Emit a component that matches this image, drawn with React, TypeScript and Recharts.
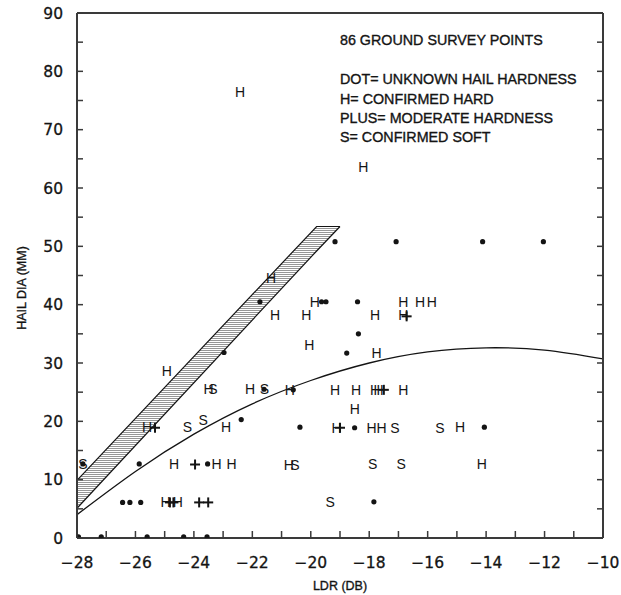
import React from "react";
import { ComposedChart, XAxis, YAxis, Scatter, Line, Area } from "recharts";

// survey points: [LDR dB, hail dia mm]
const unknownPts = [
  [-22.97, 31.8], [-22.38, 20.3], [-25.87, 12.7], [-23.53, 12.7], [-27.8, 12.7],
  [-26.44, 6.1], [-26.19, 6.1], [-25.82, 6.1],
  [-27.95, 0.2], [-27.17, 0.2], [-25.6, 0.2], [-24.35, 0.2], [-23.55, 0.2],
  [-18.37, 35.0], [-18.77, 31.7], [-20.37, 19.0], [-18.5, 18.9], [-17.84, 6.2],
  [-14.06, 19.0], [-19.17, 50.8], [-17.08, 50.8], [-14.12, 50.8], [-12.04, 50.8],
  [-21.74, 40.5], [-19.63, 40.5], [-19.48, 40.5], [-18.4, 40.5],
  [-21.6, 25.5], [-20.6, 25.4],
];

const hardPts = [
  [-22.42, 76.5], [-18.2, 63.6], [-21.36, 44.5], [-19.86, 40.5], [-16.83, 40.5],
  [-16.26, 40.5], [-15.86, 40.5], [-21.22, 38.2], [-20.15, 38.2], [-17.8, 38.2],
  [-16.83, 38.2], [-20.05, 33.1], [-17.75, 31.8], [-24.93, 28.7], [-23.5, 25.5],
  [-22.08, 25.5], [-20.72, 25.4], [-19.17, 25.4], [-18.45, 25.4], [-17.8, 25.4],
  [-17.68, 25.4], [-16.83, 25.4], [-18.49, 22.2], [-25.6, 19.0], [-22.9, 19.1],
  [-19.12, 18.9], [-17.92, 18.9], [-17.58, 18.9], [-14.89, 19.0], [-24.68, 12.7],
  [-23.22, 12.7], [-22.71, 12.7], [-20.75, 12.6], [-14.15, 12.7], [-24.97, 6.1],
  [-24.55, 6.1],
];

const moderatePts = [
  [-25.33, 18.9], [-23.96, 12.6], [-24.82, 6.1], [-24.7, 6.1], [-23.82, 6.1],
  [-23.51, 6.1], [-17.5, 25.4], [-19.0, 18.9], [-16.72, 38.0],
];

const softPts = [
  [-27.8, 12.7], [-23.35, 25.5], [-21.59, 25.5], [-24.22, 19.0], [-23.68, 20.3],
  [-17.12, 18.9], [-15.58, 18.9], [-20.54, 12.6], [-17.88, 12.7], [-16.91, 12.7],
  [-19.34, 6.2],
];

// fitted curve, read every 2 dB
const curveX = [-28, -26, -24, -22, -20, -18, -16, -14, -12, -10];
const curveY = [4.0, 11.4, 17.8, 23.0, 27.0, 30.0, 31.9, 32.6, 32.2, 30.7];

// hatched band: x, lower edge, upper edge
const bandX = [-28, -19.8, -19.0];
const bandLow = [5.1, 49.2, 53.4];
const bandHigh = [9.9, 53.4, 53.4];

const xTicks = [-28, -27, -26, -25, -24, -23, -22, -21, -20, -19, -18, -17, -16, -15, -14, -13, -12, -11, -10];
const yTicks = [0, 5, 10, 15, 20, 25, 30, 35, 40, 45, 50, 55, 60, 65, 70, 75, 80, 85, 90];

const notes = [
  "86 GROUND SURVEY POINTS",
  "DOT= UNKNOWN HAIL HARDNESS",
  "H= CONFIRMED HARD",
  "PLUS= MODERATE HARDNESS",
  "S= CONFIRMED SOFT",
];

const toRows = (pts: number[][]) => pts.map(([x, y]) => ({ x, y }));
const curveData = curveX.map((x, i) => ({ x, y: curveY[i] }));
const bandData = bandX.map((x, i) => ({ x, band: [bandLow[i], bandHigh[i]] }));

const INK = "#141414";
const AXIS = "#3a3a3a";
const markFont = "'Liberation Sans', Arial, sans-serif";
const numFont = "'DejaVu Sans', sans-serif";

const fmt = (v: number) => (v < 0 ? "\u2212" + Math.abs(v) : String(v));

const BottomTick = (p: any) => {
  const { x, y, payload } = p;
  const v = payload.value;
  const base = y - 10;
  return (
    <g>
      <line x1={x} x2={x} y1={base} y2={base - 7} stroke={AXIS} strokeWidth={1.5} />
      {v % 2 === 0 && (
        <text
          x={x}
          y={base + 30}
          textAnchor="middle"
          fontSize={15.5}
          fontFamily={numFont}
          style={{ fill: INK, stroke: INK, strokeWidth: 0.3 }}
        >
          {fmt(v)}
        </text>
      )}
    </g>
  );
};

const LeftTick = (p: any) => {
  const { x, y, payload } = p;
  const v = payload.value;
  const base = x + 14;
  return (
    <g>
      <line x1={base} x2={base + 6} y1={y} y2={y} stroke={AXIS} strokeWidth={1.5} />
      {v % 10 === 0 && (
        <text
          x={x}
          y={y + 5.5}
          textAnchor="end"
          fontSize={15.5}
          fontFamily={numFont}
          style={{ fill: INK, stroke: INK, strokeWidth: 0.3 }}
        >
          {v}
        </text>
      )}
    </g>
  );
};

const TopTick = (p: any) => (
  <line x1={p.x} x2={p.x} y1={p.y} y2={p.y + 7} stroke={AXIS} strokeWidth={1.5} />
);

const RightTick = (p: any) => (
  <line x1={p.x} x2={p.x - 6} y1={p.y} y2={p.y} stroke={AXIS} strokeWidth={1.5} />
);

const DotMark = (p: any) => <circle cx={p.cx} cy={p.cy} r={2.6} style={{ fill: INK, stroke: "none" }} />;

const letterMark = (ch: string) => (p: any) => (
  <text
    x={p.cx}
    y={p.cy + 5}
    textAnchor="middle"
    fontSize={14}
    fontFamily={markFont}
    style={{ fill: INK, stroke: "none" }}
  >
    {ch}
  </text>
);

const PlusMark = (p: any) => (
  <g style={{ stroke: INK, fill: "none" }} strokeWidth={2}>
    <line x1={p.cx - 5} x2={p.cx + 5} y1={p.cy} y2={p.cy} />
    <line x1={p.cx} x2={p.cx} y1={p.cy - 5} y2={p.cy + 5} />
  </g>
);

const boldish = { fill: INK, stroke: INK, strokeWidth: 0.35 };

export default function App() {
  return (
    <div style={{ position: "absolute", left: 0, top: 0 }}>
      <ComposedChart width={621} height={595} margin={{ top: 12, right: 17, bottom: 17, left: 17 }}>
        <defs>
          <pattern id="hatch" width="6" height="2" patternUnits="userSpaceOnUse">
            <rect x="0" y="0" width="6" height="0.9" fill="#8a8a8a" />
          </pattern>
        </defs>
        <XAxis
          dataKey="x"
          type="number"
          domain={[-28, -10]}
          ticks={xTicks}
          interval={0}
          allowDataOverflow
          height={40}
          tickSize={0}
          tickMargin={10}
          tickLine={false}
          tick={<BottomTick />}
          axisLine={{ stroke: AXIS, strokeWidth: 2 }}
        />
        <XAxis
          xAxisId="top"
          orientation="top"
          type="number"
          domain={[-28, -10]}
          ticks={xTicks}
          interval={0}
          allowDataOverflow
          height={1}
          tickSize={0}
          tickMargin={0}
          tickLine={false}
          tick={<TopTick />}
          axisLine={{ stroke: AXIS, strokeWidth: 2 }}
        />
        <YAxis
          type="number"
          domain={[0, 90]}
          ticks={yTicks}
          interval={0}
          allowDataOverflow
          width={60}
          tickSize={0}
          tickMargin={14}
          tickLine={false}
          tick={<LeftTick />}
          axisLine={{ stroke: AXIS, strokeWidth: 2 }}
        />
        <YAxis
          yAxisId="right"
          orientation="right"
          type="number"
          domain={[0, 90]}
          ticks={yTicks}
          interval={0}
          allowDataOverflow
          width={1}
          tickSize={0}
          tickMargin={0}
          tickLine={false}
          tick={<RightTick />}
          axisLine={{ stroke: AXIS, strokeWidth: 2 }}
        />
        <Area
          data={bandData}
          dataKey="band"
          type="linear"
          stroke={INK}
          strokeWidth={1.2}
          fill="url(#hatch)"
          fillOpacity={1}
          dot={false}
          activeDot={false}
          isAnimationActive={false}
        />
        <Line
          data={curveData}
          dataKey="y"
          type="natural"
          stroke={INK}
          strokeWidth={1.3}
          dot={false}
          activeDot={false}
          isAnimationActive={false}
        />
        <Scatter data={toRows(unknownPts)} dataKey="y" shape={DotMark} isAnimationActive={false} />
        <Scatter data={toRows(hardPts)} dataKey="y" shape={letterMark("H")} isAnimationActive={false} />
        <Scatter data={toRows(moderatePts)} dataKey="y" shape={PlusMark} isAnimationActive={false} />
        <Scatter data={toRows(softPts)} dataKey="y" shape={letterMark("S")} isAnimationActive={false} />
        <g fontFamily={markFont} fontSize={14.3} style={boldish}>
          <text x={340} y={45}>{notes[0]}</text>
          <text x={340} y={84}>{notes[1]}</text>
          <text x={340} y={104}>{notes[2]}</text>
          <text x={340} y={123}>{notes[3]}</text>
          <text x={340} y={142}>{notes[4]}</text>
        </g>
        <text x={340} y={590} textAnchor="middle" fontSize={12.5} fontFamily={markFont} style={boldish}>
          LDR (DB)
        </text>
        <text
          x={26}
          y={288}
          textAnchor="middle"
          fontSize={12.5}
          fontFamily={markFont}
          style={boldish}
          transform="rotate(-90 26 288)"
        >
          HAIL DIA (MM)
        </text>
      </ComposedChart>
    </div>
  );
}
